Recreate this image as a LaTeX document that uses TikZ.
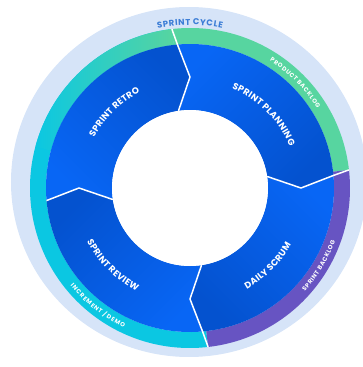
\documentclass[tikz,border=0pt]{standalone}
\usepackage{fontspec}
\setmainfont{Poppins}
\usetikzlibrary{decorations.text}
\definecolor{ringbg}{HTML}{D6E4F8}
\definecolor{bgreen}{HTML}{57D5A0}
\definecolor{bcyan}{HTML}{0BC7E2}
\definecolor{bpurple}{HTML}{6754C2}
\definecolor{bblue}{HTML}{0866F5}
\definecolor{dblue}{HTML}{0452CF}
\definecolor{cyclecol}{HTML}{3B7DD6}
\newcommand\kA{\kern0.3pt}
\newcommand\kB{\kern0.6pt}
\newcommand\kC{\kern0.8pt}
\tikzset{
  divider/.style={draw=white, line width=1.5pt, line join=round},
  arclabel/.style={decorate, decoration={text along path, text align=center, text={#1}}},
}
\begin{document}
\begin{tikzpicture}
\useasboundingbox (-190pt,-179pt) rectangle (172pt,188pt);
% background ring
\fill[ringbg] (-1pt,6pt) ellipse[x radius=178pt, y radius=175pt];
% outer coloured band
\fill[bcyan] (96.5:160pt) arc[start angle=96.5,end angle=276.5,radius=160pt] -- (276.5:144pt) arc[start angle=276.5,end angle=96.5,radius=144pt] -- cycle;
\shade[left color=bcyan, right color=bgreen] (96.5:160pt) arc[start angle=96.5,end angle=165,radius=160pt] -- (165:144pt) arc[start angle=165,end angle=96.5,radius=144pt] -- cycle;
\fill[bgreen] (96.5:160pt) arc[start angle=96.5,end angle=6.5,radius=160pt] -- (6.5:144pt) arc[start angle=6.5,end angle=96.5,radius=144pt] -- cycle;
\fill[bpurple] (6.5:160pt) arc[start angle=6.5,end angle=-83.5,radius=160pt] -- (-83.5:144pt) arc[start angle=-83.5,end angle=6.5,radius=144pt] -- cycle;
% blue segments
\shade[top color=bblue, bottom color=dblue, shading angle=45]
  (95:144pt) arc[start angle=95,end angle=5,radius=144pt] -- (0:111pt) -- (8.5:78pt) arc[start angle=8.5,end angle=98.5,radius=78pt] -- (90:111pt) -- cycle;
\shade[top color=bblue, bottom color=dblue, shading angle=-45]
  (5:144pt) arc[start angle=5,end angle=-85,radius=144pt] -- (-90:111pt) -- (-81.5:78pt) arc[start angle=-81.5,end angle=8.5,radius=78pt] -- (0:111pt) -- cycle;
\shade[top color=bblue, bottom color=dblue, shading angle=225]
  (-85:144pt) arc[start angle=-85,end angle=-175,radius=144pt] -- (180:111pt) -- (-171.5:78pt) arc[start angle=-171.5,end angle=-81.5,radius=78pt] -- (-90:111pt) -- cycle;
\shade[top color=bblue, bottom color=dblue, shading angle=135]
  (185:144pt) arc[start angle=185,end angle=95,radius=144pt] -- (90:111pt) -- (98.5:78pt) arc[start angle=98.5,end angle=188.5,radius=78pt] -- (180:111pt) -- cycle;
% centre
\fill[white] (0,0) circle[radius=78pt];
% dividers
\coordinate (t1) at (98.5:78pt);  \coordinate (t2) at (90:111pt);  \coordinate (t3) at (95:144pt);  \coordinate (t4) at (96.5:160pt);
\coordinate (r1) at (8.5:78pt);   \coordinate (r2) at (0:111pt);   \coordinate (r3) at (5:144pt);   \coordinate (r4) at (6.5:160pt);
\coordinate (b1) at (-81.5:78pt); \coordinate (b2) at (-90:111pt); \coordinate (b3) at (-85:144pt); \coordinate (b4) at (-83.5:160pt);
\coordinate (l1) at (188.5:78pt); \coordinate (l2) at (180:111pt); \coordinate (l3) at (185:144pt);
\draw[divider] (t1) -- (t2) -- (t3) -- (t4);
\draw[divider] (r1) -- (r2) -- (r3) -- (r4);
\draw[divider] (b1) -- (b2) -- (b3) -- (b4);
\draw[divider] (l1) -- (l2) -- (l3);
% segment labels
\path[arclabel={|\color{white}\bfseries\fontsize{9}{10}\selectfont|{S\kA}{P\kA}{R\kA}{I\kA}{N\kA}{T\kA} {R\kA}{E\kA}{T\kA}{R\kA}O}] (175:108pt) arc[start angle=175,end angle=95,radius=108pt];
\path[arclabel={|\color{white}\bfseries\fontsize{9}{10}\selectfont|{S\kA}{P\kA}{R\kA}{I\kA}{N\kA}{T\kA} {P\kA}{L\kA}{A\kA}{N\kA}{N\kA}{I\kA}{N\kA}G}] (90:108pt) arc[start angle=90,end angle=0,radius=108pt];
\path[arclabel={|\color{white}\bfseries\fontsize{9}{10}\selectfont|{D\kA}{A\kA}{I\kA}{L\kA}{Y\kA} {S\kA}{C\kA}{R\kA}{U\kA}M}] (-85:116pt) arc[start angle=-85,end angle=-5,radius=116pt];
\path[arclabel={|\color{white}\bfseries\fontsize{9}{10}\selectfont|{S\kA}{P\kA}{R\kA}{I\kA}{N\kA}{T\kA} {R\kA}{E\kA}{V\kA}{I\kA}{E\kA}W}] (180:116pt) arc[start angle=180,end angle=270,radius=116pt];
% band labels
\path[arclabel={|\color{cyclecol}\bfseries\fontsize{8.5}{9}\selectfont|{S\kB}{P\kB}{R\kB}{I\kB}{N\kB}{T\kB} {C\kB}{Y\kB}{C\kB}{L\kB}E}] (130:163pt) arc[start angle=130,end angle=50,radius=163pt];
\path[arclabel={|\color{white}\bfseries\fontsize{6}{7}\selectfont|{P\kB}{R\kB}{O\kB}{D\kB}{U\kB}{C\kB}{T\kB} {B\kB}{A\kB}{C\kB}{K\kB}{L\kB}{O\kB}G}] (80:150pt) arc[start angle=80,end angle=10,radius=150pt];
\path[arclabel={|\color{white}\bfseries\fontsize{6}{7}\selectfont|{S\kB}{P\kB}{R\kB}{I\kB}{N\kB}{T\kB} {B\kB}{A\kB}{C\kB}{K\kB}{L\kB}{O\kB}G}] (-66:154.5pt) arc[start angle=-66,end angle=4,radius=154.5pt];
\path[arclabel={|\color{white}\bfseries\fontsize{6}{7}\selectfont|{I\kC}{N\kC}{C\kC}{R\kC}{E\kC}{M\kC}{E\kC}{N\kC}{T\kC} {/\kC} {D\kC}{E\kC}{M\kC}O}] (197:154.5pt) arc[start angle=197,end angle=267,radius=154.5pt];
\end{tikzpicture}
\end{document}
